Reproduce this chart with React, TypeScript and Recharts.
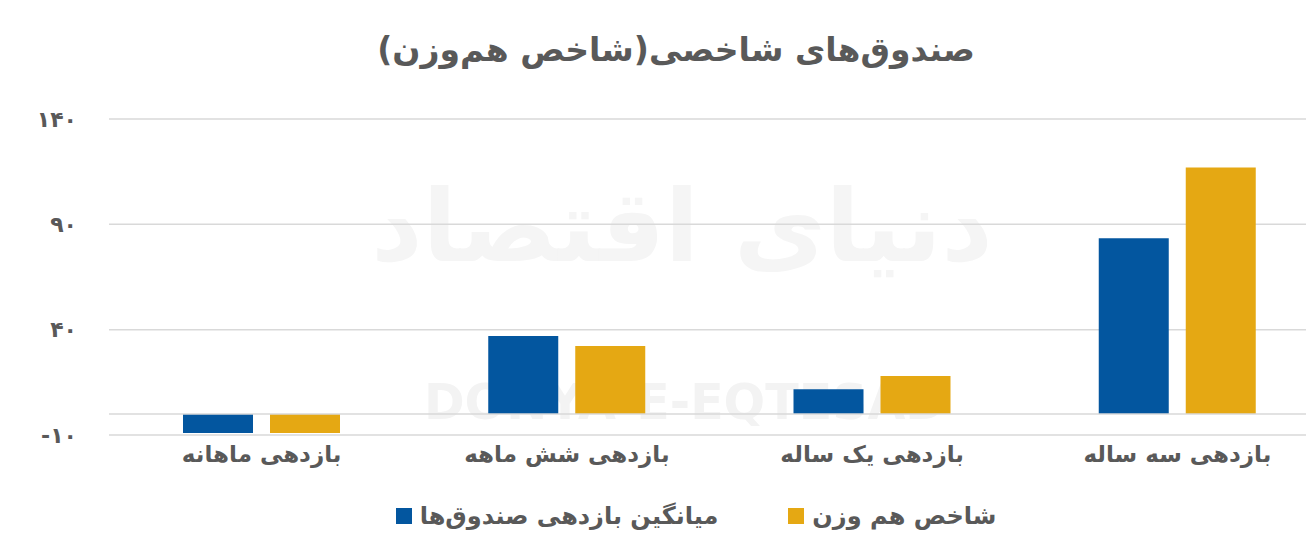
import React from 'react';
import { BarChart, Bar, XAxis, YAxis, CartesianGrid, ReferenceLine } from 'recharts';

const categories = ['بازدهی ماهانه', 'بازدهی شش ماهه', 'بازدهی یک ساله', 'بازدهی سه ساله'];
const fundAverage = [-9, 37, 11.7, 83.4];
const equalWeightIndex = [-9, 32.3, 18, 117];
const yTicks = [-10, 40, 90, 140];

const seriesNames = ['میانگین بازدهی صندوق‌ها', 'شاخص هم وزن'];
const seriesColors = ['#03569f', '#e5a813'];

const data = categories.map((name, i) => ({
	name,
	fund: fundAverage[i],
	index: equalWeightIndex[i],
}));

const faDigits = '۰۱۲۳۴۵۶۷۸۹';
const toPersian = (v: number | string) =>
	String(v).replace(/[0-9]/g, (d) => faDigits[Number(d)]);

const FONT = '"DejaVu Sans", sans-serif';
const TEXT = '#595959';

const centered = (centerX: number): React.CSSProperties => ({
	position: 'absolute',
	left: centerX - 653,
	width: 1306,
	textAlign: 'center',
});

export default function App() {
	return (
		<div
			style={{
				position: 'absolute',
				left: 0,
				top: 0,
				width: 1306,
				height: 558,
				overflow: 'hidden',
				background: '#fff',
				fontFamily: FONT,
			}}
		>
			{/* watermark */}
			<div
				style={{
					...centered(682),
					top: 168,
					fontSize: 100,
					fontWeight: 'bold',
					color: '#f5f5f5',
					direction: 'rtl',
				}}
			>
				دنیای اقتصاد
			</div>
			<div
				style={{
					...centered(685),
					top: 374,
					fontSize: 49,
					fontWeight: 'bold',
					color: '#f3f3f3',
				}}
			>
				DONYA-E-EQTESAD
			</div>

			<div
				style={{
					...centered(676),
					top: 30,
					fontSize: 33,
					fontWeight: 'bold',
					color: TEXT,
					direction: 'rtl',
				}}
			>
				صندوق‌های شاخصی(شاخص هم‌وزن)
			</div>

			<div style={{ position: 'absolute', left: 0, top: 0 }}>
				<BarChart
					width={1330}
					height={558}
					data={data}
					margin={{ top: 119, right: 0, bottom: 63, left: 0 }}
					barSize={70}
					barGap={17}
				>
					<CartesianGrid horizontal vertical={false} stroke="#d9d9d9" strokeWidth={1.5} />
					<ReferenceLine y={0} stroke="#d9d9d9" strokeWidth={1.5} />
					<XAxis
						dataKey="name"
						axisLine={false}
						tickLine={false}
						height={60}
						tickMargin={5}
						interval={0}
						tick={{ fontSize: 23, fontWeight: 'bold', fill: TEXT, fontFamily: FONT }}
					/>
					<YAxis
						width={109}
						domain={[-10, 140]}
						ticks={yTicks}
						allowDataOverflow
						axisLine={false}
						tickLine={false}
						tickSize={0}
						tickMargin={32}
						tickFormatter={toPersian}
						tick={{ fontSize: 22, fontWeight: 'bold', fill: TEXT, fontFamily: FONT }}
					/>
					<Bar dataKey="fund" name={seriesNames[0]} fill={seriesColors[0]} isAnimationActive={false} />
					<Bar dataKey="index" name={seriesNames[1]} fill={seriesColors[1]} isAnimationActive={false} />
				</BarChart>
			</div>

			{/* legend */}
			<div
				style={{
					...centered(696),
					top: 502,
					display: 'flex',
					justifyContent: 'center',
					gap: 70,
				}}
			>
				{seriesNames.map((n, i) => (
					<div key={n} style={{ display: 'flex', alignItems: 'center', gap: 8 }}>
						<div style={{ width: 16, height: 16, background: seriesColors[i] }} />
						<span
							style={{
								fontSize: 24,
								fontWeight: 'bold',
								color: TEXT,
								direction: 'rtl',
							}}
						>
							{n}
						</span>
					</div>
				))}
			</div>
		</div>
	);
}
